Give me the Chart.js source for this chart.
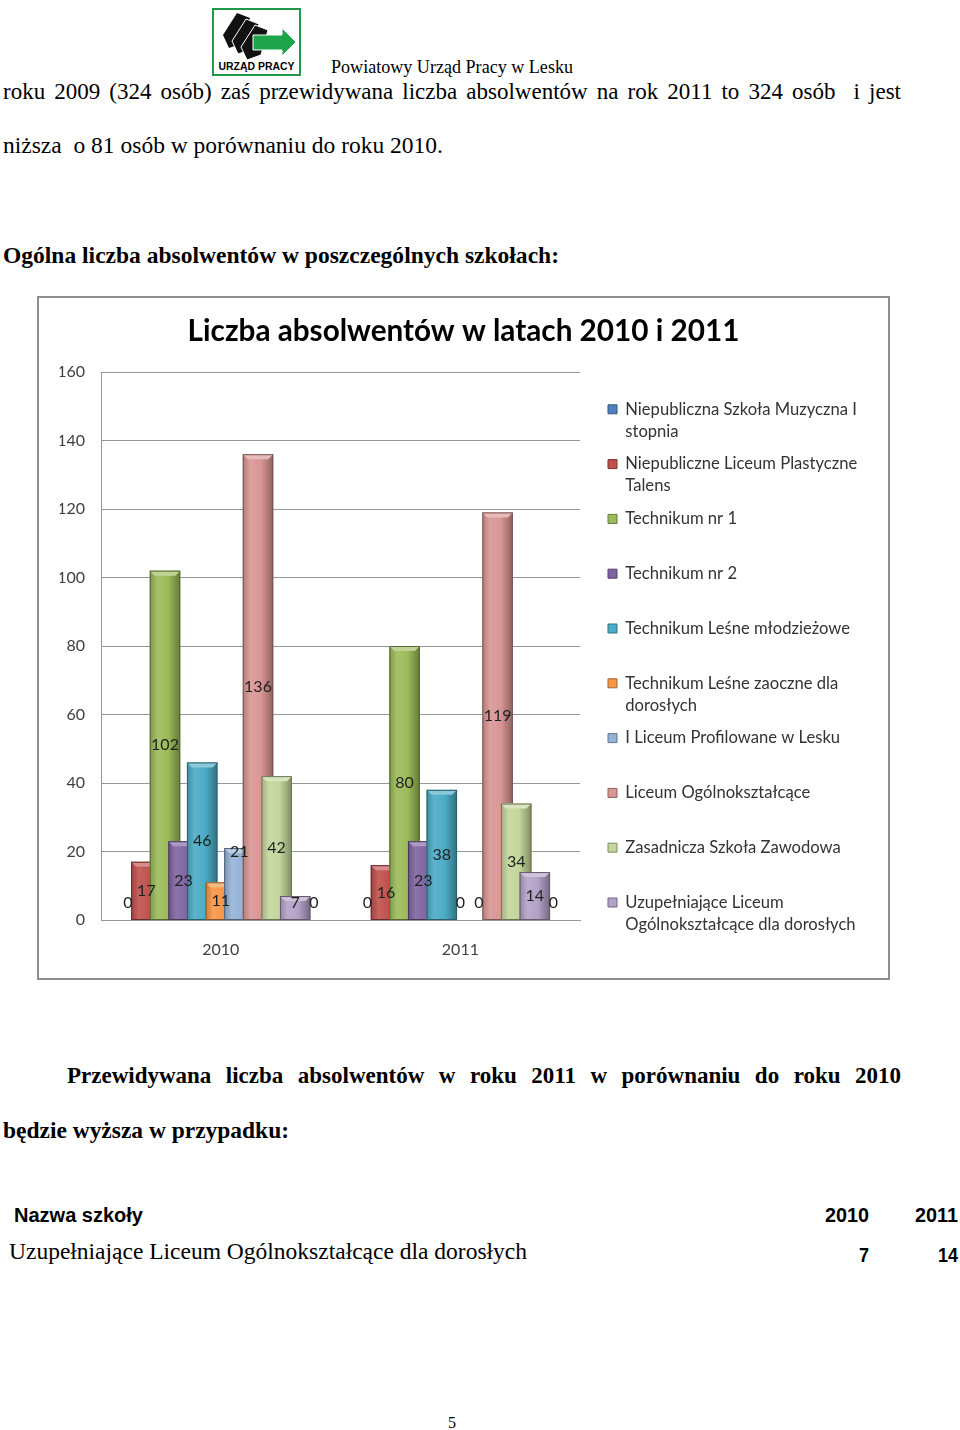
<!DOCTYPE html>
<html lang="pl">
<head>
<meta charset="utf-8">
<title>Liczba absolwentów w latach 2010 i 2011</title>
<script src="https://cdn.jsdelivr.net/npm/chart.js@4.4.1/dist/chart.umd.min.js"></script>
<style>
  html, body { margin: 0; padding: 0; background: #fff; }
  body { position: relative; width: 960px; height: 1430px; overflow: hidden; }
  .t { position: absolute; white-space: pre; line-height: 1; color: #000;
       font-family: "Liberation Serif", "DejaVu Serif", serif; transform-origin: 0 0; }
  .b { font-weight: bold; }
  .s { font-family: "Liberation Sans", Arial, sans-serif; }
  #logo { position: absolute; left: 212px; top: 8px; }
  #box { position: absolute; left: 37px; top: 296px; width: 849px; height: 680px; border: 2px solid #8e8e8e; }
  #chart { display: block; }
</style>
</head>
<body>

<svg id="logo" width="89" height="68" viewBox="0 0 89 68">
  <rect x="1" y="1" width="87" height="66" fill="#fff" stroke="#1f9a4b" stroke-width="2"/>
  <polygon points="11,27 25,5 38,10 31,35 17,40" fill="#111"/>
  <polygon points="20,33 34,11 47,16 40,41 26,46" fill="#111" stroke="#fff" stroke-width="1"/>
  <polygon points="29,39 43,17 56,22 49,47 35,52" fill="#111" stroke="#fff" stroke-width="1"/>
  <polygon points="41,27 70,27 70,20 84,34 70,48 70,42 41,42" fill="#1ea54c" stroke="#fff" stroke-width="1"/>
  <text x="44.5" y="62" text-anchor="middle" font-family="Liberation Sans, Arial, sans-serif" font-weight="bold"
        font-size="11.5" textLength="76" lengthAdjust="spacingAndGlyphs">URZĄD PRACY</text>
</svg>

<div class="t" data-x="331" data-y="68" data-w="242" style="font-size:18px">Powiatowy Urząd Pracy w Lesku</div>
<div class="t" data-x="3" data-y="92" data-w="898" data-j="1" style="font-size:23px">roku 2009 (324 osób) zaś przewidywana liczba absolwentów na rok 2011 to 324 osób  i jest</div>
<div class="t" data-x="3" data-y="146" data-w="440" style="font-size:23px">niższa  o 81 osób w porównaniu do roku 2010.</div>
<div class="t b" data-x="3" data-y="256" data-w="556" style="font-size:23px">Ogólna liczba absolwentów w poszczególnych szkołach:</div>

<div id="box"><canvas id="chart" width="849" height="680"></canvas></div>

<div class="t b" data-x="67" data-y="1076" data-w="834" data-j="1" style="font-size:23px">Przewidywana liczba absolwentów w roku 2011 w porównaniu do roku 2010</div>
<div class="t b" data-x="3" data-y="1131" data-w="286" style="font-size:23px">będzie wyższa w przypadku:</div>
<div class="t b s" data-x="14" data-y="1216" data-w="129" style="font-size:20px">Nazwa szkoły</div>
<div class="t b s" data-x="825" data-y="1216" data-w="44" style="font-size:20px">2010</div>
<div class="t b s" data-x="915" data-y="1216" data-w="43" style="font-size:20px">2011</div>
<div class="t" data-x="9" data-y="1252" data-w="518" style="font-size:23px">Uzupełniające Liceum Ogólnokształcące dla dorosłych</div>
<div class="t b s" data-x="859" data-y="1256" data-w="10" style="font-size:20px">7</div>
<div class="t b s" data-x="938" data-y="1256" data-w="20" style="font-size:20px">14</div>
<div class="t" data-x="448" data-y="1423" data-w="8" style="font-size:17px">5</div>

<script>
// dane
const categories = ["2010", "2011"];
const schools = [
    "Niepubliczna Szkoła Muzyczna I\nstopnia",
    "Niepubliczne Liceum Plastyczne\nTalens",
    "Technikum nr 1",
    "Technikum nr 2",
    "Technikum Leśne młodzieżowe",
    "Technikum Leśne zaoczne dla\ndorosłych",
    "I Liceum Profilowane w Lesku",
    "Liceum Ogólnokształcące",
    "Zasadnicza Szkoła Zawodowa",
    "Uzupełniające Liceum\nOgólnokształcące dla dorosłych",
    ""  // jedenasta seria (same zera), bez wpisu w legendzie
];
const values2010 = [0, 17, 102, 23, 46, 11, 21, 136, 42, 7, 0];
const values2011 = [0, 16, 80, 23, 38, 0, 0, 119, 34, 14, 0];
const yMin = 0, yMax = 160, yStep = 20;

const colors = ["#4F81BD", "#C0504D", "#9BBB59", "#8064A2", "#4BACC6", "#F79646",
                "#95B3D7", "#D99694", "#C3D69B", "#B3A2C7", "#93CDDD"];

// teksty strony: dopasowanie szerokości
document.querySelectorAll(".t").forEach(el => {
    const fs = parseFloat(el.style.fontSize);
    el.style.left = el.dataset.x + "px";
    el.style.top = (el.dataset.y - fs * 0.54) + "px";
    const w = +el.dataset.w;
    const nat = el.getBoundingClientRect().width;
    if (el.dataset.j) {
        const gaps = (el.textContent.match(/ /g) || []).length;
        el.style.wordSpacing = ((w - nat) / gaps) + "px";
    } else {
        el.style.transform = "scaleX(" + (w / nat) + ")";
    }
});

function shade(hex, f) {
    const n = parseInt(hex.slice(1), 16);
    const t = f < 0 ? 0 : 255, p = Math.abs(f);
    const ch = [n >> 16, (n >> 8) & 255, n & 255].map(v => Math.round(v + (t - v) * p));
    return "rgb(" + ch.join(",") + ")";
}

// rozmiary czcionek dobrane do szerokości z oryginału
const meas = document.createElement("canvas").getContext("2d");
const titleText = "Liczba absolwentów w latach 2010 i 2011";
meas.font = "bold 30px Lato";
const titleSize = 30 * 552 / meas.measureText(titleText).width;
meas.font = "16px Lato";
const legendSize = 16 * 232 / meas.measureText("Niepubliczne Liceum Plastyczne").width;
meas.font = legendSize + "px Lato";
const longest = Math.max(...schools.flatMap(s => s.split("\n")).map(s => meas.measureText(s).width));
const legendPad = 10.8;
const legendWidth = legendPad + 9 + legendSize / 2 + longest + 10;
const sidePad = Math.max(0, 849 - 558.2 - legendWidth);

// słupki rysowane z gradientem, późniejsza seria na wierzchu
const barPainter = {
    id: "barPainter",
    beforeDatasetsDraw(chart, args, opts) {
        const ctx = chart.ctx;
        const metas = chart.getSortedVisibleDatasetMetas().slice().sort((a, b) => a.index - b.index);
        ctx.save();
        metas.forEach(meta => {
            const c = colors[meta.index];
            meta.data.forEach(bar => {
                const h = bar.base - bar.y;
                if (h < 1) return;
                const l = bar.x - bar.width / 2, w = bar.width;
                const gr = ctx.createLinearGradient(l, 0, l + w, 0);
                gr.addColorStop(0, shade(c, -0.18));
                gr.addColorStop(0.25, shade(c, 0.1));
                gr.addColorStop(0.6, c);
                gr.addColorStop(1, shade(c, -0.35));
                ctx.fillStyle = gr;
                ctx.fillRect(l, bar.y, w, h);
                const bv = Math.min(5, h / 2);
                ctx.fillStyle = shade(c, 0.35);
                ctx.beginPath();
                ctx.moveTo(l, bar.y);
                ctx.lineTo(l + w, bar.y);
                ctx.lineTo(l + w - bv, bar.y + bv);
                ctx.lineTo(l + bv, bar.y + bv);
                ctx.closePath();
                ctx.fill();
                ctx.strokeStyle = shade(c, -0.45);
                ctx.lineWidth = 1;
                ctx.strokeRect(l + 0.5, bar.y + 0.5, w - 1, h - 0.5);
            });
        });
        ctx.font = "16px Lato";
        ctx.fillStyle = "#1f1f1f";
        ctx.textAlign = "center";
        ctx.textBaseline = "middle";
        metas.forEach(meta => {
            meta.data.forEach((bar, i) => {
                const v = chart.data.datasets[meta.index].data[i];
                let y = Math.min((bar.y + bar.base) / 2, bar.base - 17);
                if (opts.raised.some(r => r[0] === meta.index && r[1] === i)) y = bar.y + 4;
                ctx.fillText(String(v), bar.x, y);
            });
        });
        ctx.restore();
        return false;
    }
};

Chart.defaults.font.family = "Lato";
Chart.defaults.color = "#404040";

new Chart(document.getElementById("chart"), {
    type: "bar",
    data: {
        labels: categories,
        datasets: schools.map((name, i) => ({
            label: name,
            data: [values2010[i], values2011[i]],
            backgroundColor: colors[i],
            borderColor: shade(colors[i], -0.35),
            borderWidth: 1,
            categoryPercentage: 0.854,
            barPercentage: 1.64
        }))
    },
    plugins: [barPainter],
    options: {
        responsive: false,
        animation: false,
        events: [],
        layout: { padding: { left: sidePad, right: sidePad, top: 0, bottom: 18.8 } },
        plugins: {
            barPainter: { raised: [[6, 0]] },
            tooltip: { enabled: false },
            title: {
                display: true,
                text: titleText,
                color: "#000",
                font: { size: titleSize, weight: "bold", lineHeight: 36 / titleSize },
                padding: { top: 15, bottom: 23 }
            },
            legend: {
                position: "right",
                align: "start",
                maxWidth: 400,
                title: { display: true, text: "", font: { size: 10, lineHeight: 1 }, padding: { top: 103 - legendPad - 10, bottom: 0 } },
                labels: {
                    color: "#333",
                    boxWidth: 9,
                    boxHeight: 9,
                    padding: legendPad,
                    font: { size: legendSize, lineHeight: 22 / legendSize },
                    filter: item => item.text.join("") !== "",
                    generateLabels: chart => {
                        const items = Chart.defaults.plugins.legend.labels.generateLabels(chart);
                        items.forEach(it => {
                            const lines = it.text.split("\n");
                            while (lines.length < 2) lines.push("");
                            it.text = lines;
                        });
                        return items;
                    }
                }
            }
        },
        scales: {
            x: {
                grid: { display: false, drawTicks: false },
                border: { display: true, color: "#969696" },
                ticks: { padding: 20, font: { size: 16 } },
                afterFit: s => { s.height = 39.2; }
            },
            y: {
                min: yMin,
                max: yMax,
                ticks: { stepSize: yStep, padding: 16, font: { size: 16 } },
                grid: { color: "#969696", drawTicks: false },
                border: { display: true, color: "#969696" },
                afterFit: s => { s.width = 62 - sidePad; }
            },
            spacer: {
                position: "right",
                grid: { display: false },
                ticks: { display: false },
                border: { display: false },
                afterFit: s => { s.width = 17; }
            }
        }
    }
});
</script>
</body>
</html>
